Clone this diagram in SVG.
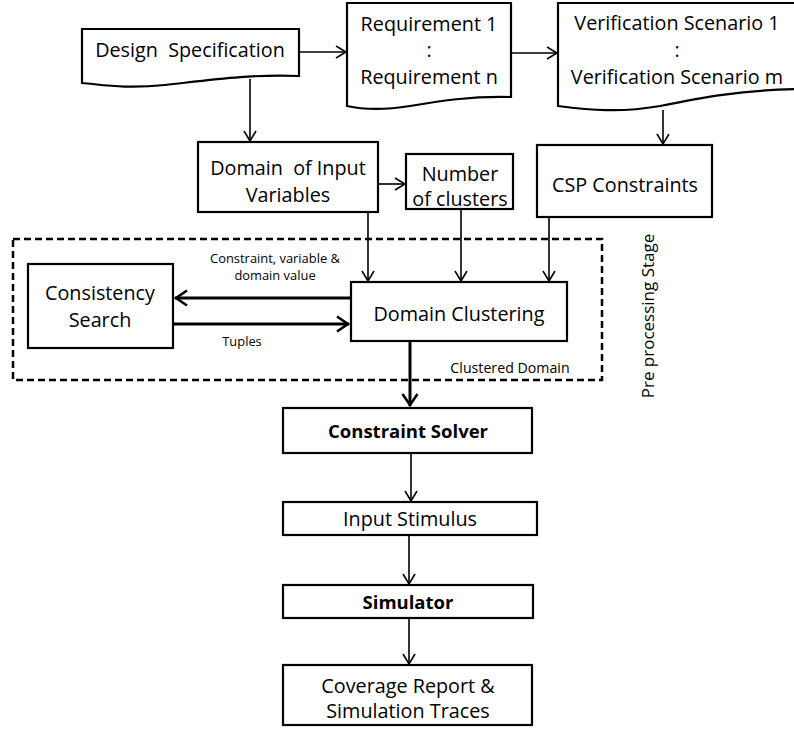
<svg xmlns="http://www.w3.org/2000/svg" width="794" height="729" viewBox="0 0 794 729">
<style>
.box{fill:#fff;stroke:#000;stroke-width:2.2}
.t{font-family:"Open Sans","Liberation Sans",sans-serif;font-size:19.8px;fill:#000;text-anchor:middle}
.b{font-weight:bold;font-size:18.5px}
.s{font-family:"Open Sans","Liberation Sans",sans-serif;font-size:12.9px;fill:#000;text-anchor:middle}
.c{fill:none;stroke:#000;stroke-width:1.6}
.k{fill:none;stroke:#000;stroke-width:3}
</style>
<defs>
<marker id="a" markerUnits="userSpaceOnUse" markerWidth="14" markerHeight="14" viewBox="0 0 14 14" refX="12" refY="7" orient="auto">
<path d="M2,1 L12,7 L2,13" fill="none" stroke="#000" stroke-width="1.6"/>
</marker>
<marker id="ak" markerUnits="userSpaceOnUse" markerWidth="16" markerHeight="18" viewBox="0 0 16 18" refX="14" refY="9" orient="auto">
<path d="M2,1.5 L13,9 L2,16.5" fill="none" stroke="#000" stroke-width="2.6"/>
</marker>
</defs>
<rect width="794" height="729" fill="#fff"/>
<g id="preprocessing">
<rect x="13" y="239" width="589" height="141" fill="none" stroke="#000" stroke-width="2.5" stroke-dasharray="7,4"/>
<text class="t" style="font-size:17px" transform="translate(654,316) rotate(-90)">Pre processing Stage</text>
<text class="s" style="font-size:14.2px" x="510" y="373">Clustered Domain</text>
</g>
<g id="design-spec">
<path class="box" d="M82,29 H299 V76 C250,74 210,80 165,85 C125,89 105,85 82,83 Z"/>
<text class="t" x="190" y="57" xml:space="preserve">Design  Specification</text>
</g>
<g id="requirements">
<path class="box" d="M347,3 H511 V97 C470,96 440,101 410,106 C385,110 365,110 347,106 Z"/>
<text class="t" x="429" y="31">Requirement 1</text>
<text class="t" x="429" y="57">:</text>
<text class="t" x="429" y="84">Requirement n</text>
</g>
<g id="verification">
<path class="box" d="M558,3 H800 V89 C740,90 700,98 660,106 C620,113 590,110 558,106 Z"/>
<text class="t" x="677" y="30">Verification Scenario 1</text>
<text class="t" x="677" y="57">:</text>
<text class="t" x="677" y="84">Verification Scenario m</text>
</g>
<g id="domain-input">
<rect class="box" x="198" y="142" width="180" height="70"/>
<text class="t" x="288" y="175" xml:space="preserve">Domain  of Input</text>
<text class="t" x="288" y="202">Variables</text>
</g>
<g id="num-clusters">
<rect class="box" x="406" y="154" width="107" height="55"/>
<text class="t" x="460" y="181">Number</text>
<text class="t" x="460" y="206">of clusters</text>
</g>
<g id="csp">
<rect class="box" x="537" y="145" width="175" height="72"/>
<text class="t" x="625" y="192">CSP Constraints</text>
</g>
<g id="consistency">
<rect class="box" x="28" y="264" width="145" height="84"/>
<text class="t" x="100" y="300">Consistency</text>
<text class="t" x="100" y="327">Search</text>
</g>
<g id="domain-clustering">
<rect class="box" x="351" y="282" width="216" height="59"/>
<text class="t" x="459" y="321">Domain Clustering</text>
</g>
<g id="solver">
<rect class="box" x="283" y="408" width="249" height="45"/>
<text class="t b" x="408" y="438">Constraint Solver</text>
</g>
<g id="stimulus">
<rect class="box" x="283" y="502" width="254" height="33"/>
<text class="t" x="410" y="526">Input Stimulus</text>
</g>
<g id="simulator">
<rect class="box" x="283" y="585" width="250" height="33"/>
<text class="t b" x="408" y="609">Simulator</text>
</g>
<g id="coverage">
<rect class="box" x="283" y="665" width="249" height="60"/>
<text class="t" x="408" y="693">Coverage Report &amp;</text>
<text class="t" x="408" y="718">Simulation Traces</text>
</g>
<g id="connectors">
<path class="c" d="M299,52 H346" marker-end="url(#a)"/>
<path class="c" d="M511,53 H557" marker-end="url(#a)"/>
<path class="c" d="M250,79 V141" marker-end="url(#a)"/>
<path class="c" d="M663,110 V144" marker-end="url(#a)"/>
<path class="c" d="M378,184 H405" marker-end="url(#a)"/>
<path class="c" d="M368,212 V281" marker-end="url(#a)"/>
<path class="c" d="M461,209 V281" marker-end="url(#a)"/>
<path class="c" d="M549,217 V281" marker-end="url(#a)"/>
<path class="k" d="M351,298 H175" marker-end="url(#ak)"/>
<path class="k" d="M173,324 H349" marker-end="url(#ak)"/>
<path class="k" d="M410,341 V406" marker-end="url(#ak)"/>
<path class="c" d="M411,453 V501" marker-end="url(#a)"/>
<path class="c" d="M409,535 V584" marker-end="url(#a)"/>
<path class="c" d="M409,618 V664" marker-end="url(#a)"/>
<text class="s" x="275" y="263">Constraint, variable &amp;</text>
<text class="s" x="275" y="280">domain value</text>
<text class="s" x="242" y="346">Tuples</text>
</g>
</svg>
